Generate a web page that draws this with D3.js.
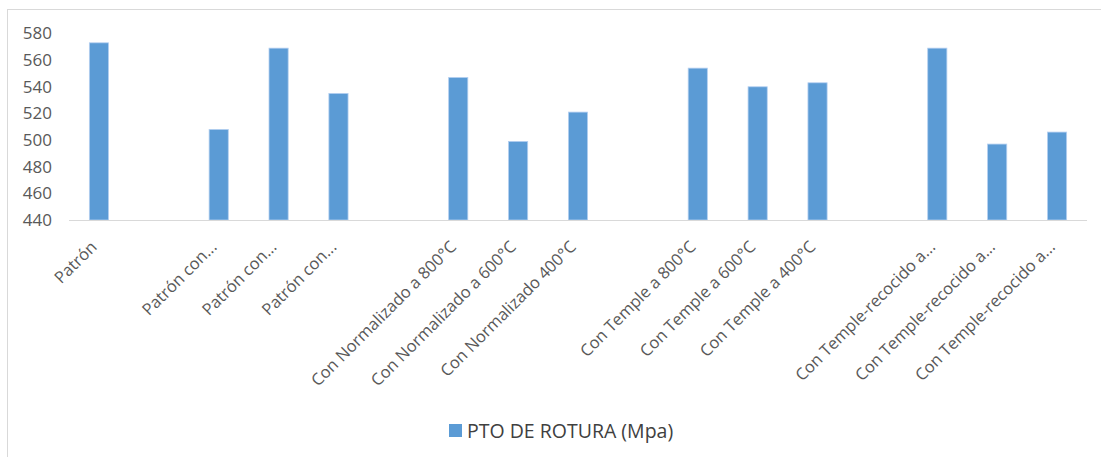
<html>
<head>
<script src="https://d3js.org/d3.v7.min.js"></script>
<style>
  body { margin: 0; background: #fff; }
  text { font-family: "Open Sans", Lato, sans-serif; }
</style>
</head>
<body>
<svg id="chart" width="1101" height="457"></svg>
<script>
const categories = ["Patrón", "", "Patrón con...", "Patrón con...", "Patrón con...", "",
  "Con Normalizado a 800°C", "Con Normalizado a 600°C", "Con Normalizado 400°C", "",
  "Con Temple a 800°C", "Con Temple a 600°C", "Con Temple a 400°C", "",
  "Con Temple-recocido a...", "Con Temple-recocido a...", "Con Temple-recocido a..."];
const values = [573, null, 508, 569, 535, null, 547, 499, 521, null, 554, 540, 543, null, 569, 497, 506];
const yTicks = [440, 460, 480, 500, 520, 540, 560, 580];
const seriesName = "PTO DE ROTURA (Mpa)";

const svg = d3.select("svg#chart");
const idx = d3.range(categories.length);

// chart frame (right and bottom fall outside the picture)
svg.append("rect")
   .attr("x", 7.5).attr("y", 9.5)
   .attr("width", 1200).attr("height", 500)
   .attr("fill", "none").attr("stroke", "#d9d9d9");

const x = d3.scaleBand().domain(idx).range([69, 1087])
            .paddingInner(0.68).paddingOuter(0.34);
const y = d3.scaleLinear().domain([440, 580]).range([220, 33.5]);

// y labels
svg.selectAll("text.ytick").data(yTicks)
   .join("text")
   .attr("class", "ytick")
   .attr("x", 52)
   .attr("y", d => y(d))
   .attr("dy", "0.35em")
   .attr("text-anchor", "end")
   .attr("font-size", 17)
   .attr("fill", "#595959")
   .text(d => d);

// bars
svg.selectAll("rect.bar").data(idx.filter(i => values[i] != null))
   .join("rect")
   .attr("class", "bar")
   .attr("x", i => x(i))
   .attr("width", x.bandwidth())
   .attr("y", i => y(values[i]))
   .attr("height", i => y(440) - y(values[i]))
   .attr("fill", "#5b9bd5")
   .attr("stroke", "#b4cff0")
   .attr("stroke-width", 0.8);

// x axis line
svg.append("line")
   .attr("x1", 69).attr("x2", 1087)
   .attr("y1", y(440) + 0.5).attr("y2", y(440) + 0.5)
   .attr("stroke", "#d9d9d9").attr("stroke-width", 1.2);

// category labels
svg.selectAll("text.xlab").data(idx)
   .join("text")
   .attr("class", "xlab")
   .attr("transform", i => "translate(" + (x(i) + x.bandwidth() / 2 - 1) + ",248) rotate(-45)")
   .attr("text-anchor", "end")
   .attr("font-size", 16.5)
   .attr("fill", "#595959")
   .text(i => categories[i]);

// legend
const legend = svg.append("g").attr("transform", "translate(449,424)");
legend.append("rect").attr("width", 13).attr("height", 13).attr("fill", "#5b9bd5");
legend.append("text")
      .attr("x", 18).attr("y", 7).attr("dy", "0.35em")
      .attr("font-size", 19.5)
      .attr("fill", "#404040")
      .text(seriesName);
</script>
</body>
</html>
